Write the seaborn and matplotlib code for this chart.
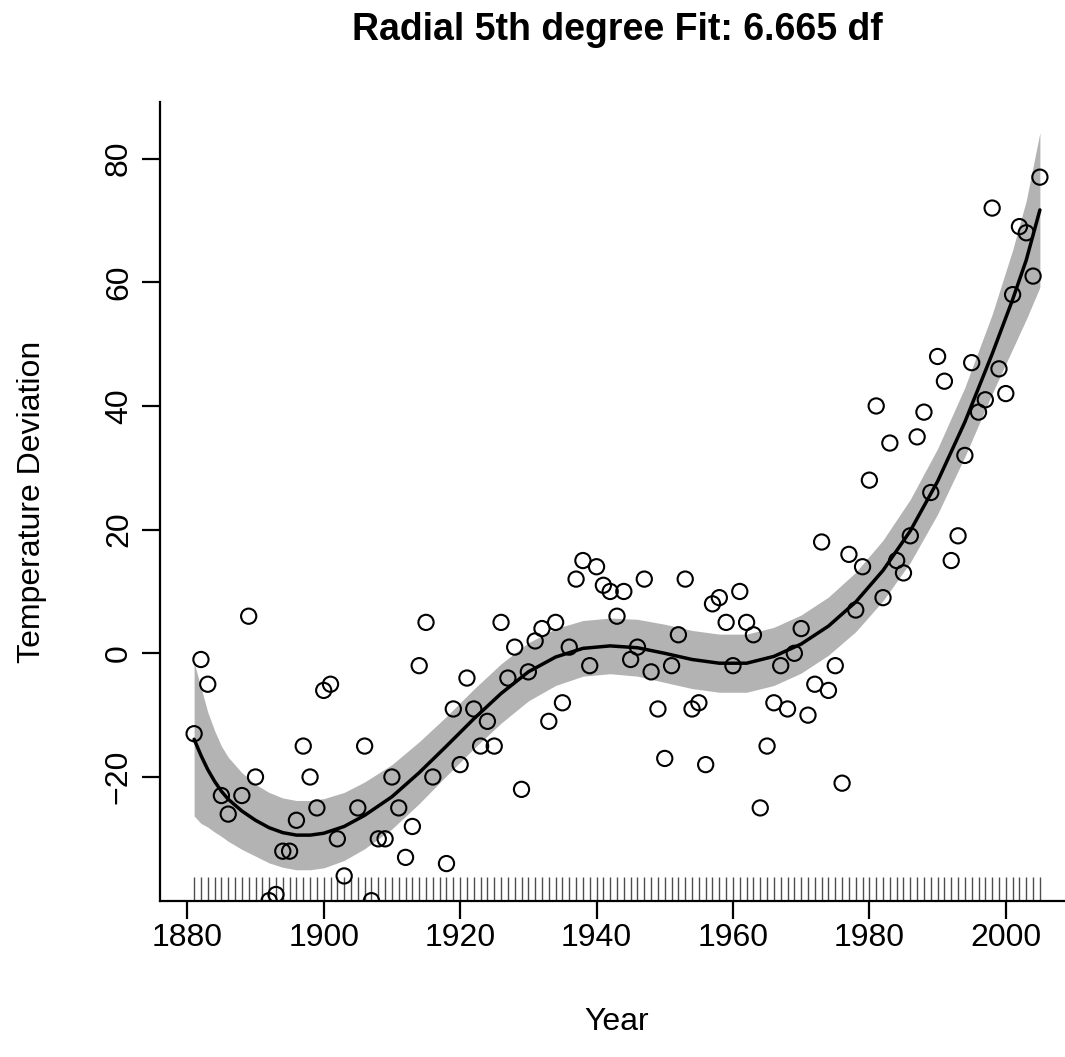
import matplotlib
matplotlib.use("Agg")
import matplotlib.pyplot as plt
import seaborn as sns
import numpy as np

# yearly temperature deviations (years below -41 are clipped away)
years = list(range(1881, 2006))
temp_dev = [
    -13, -1, -5, -44, -23, -26, -43, -23, 6, -20,
    -45, -40, -39, -32, -32, -27, -15, -20, -25, -6,
    -5, -30, -36, -44, -25, -15, -40, -30, -30, -20,
    -25, -33, -28, -2, 5, -20, -43, -34, -9, -18,
    -4, -9, -15, -11, -15, 5, -4, 1, -22, -3,
    2, 4, -11, 5, -8, 1, 12, 15, -2, 14,
    11, 10, 6, 10, -1, 1, 12, -3, -9, -17,
    -2, 3, 12, -9, -8, -18, 8, 9, 5, -2,
    10, 5, 3, -25, -15, -8, -2, -9, 0, 4,
    -10, -5, 18, -6, -2, -21, 16, 7, 14, 28,
    40, 9, 34, 15, 13, 19, 35, 39, 26, 48,
    44, 15, 19, 32, 47, 39, 41, 72, 46, 42,
    58, 69, 68, 61, 77,
]

# fitted curve and half width of its band
fit_years = [1881, 1882, 1883, 1884, 1885, 1886, 1888, 1890, 1892, 1894,
             1896, 1898, 1900, 1903, 1906, 1910, 1914, 1918, 1922, 1926,
             1930, 1934, 1938, 1942, 1946, 1950, 1954, 1958, 1962, 1966,
             1970, 1974, 1978, 1982, 1986, 1990, 1994, 1998, 2001, 2003, 2005]
fit_vals = [-13.9, -16.5, -18.8, -20.7, -22.3, -23.6, -25.5, -27.0, -28.2, -29.0,
            -29.4, -29.4, -29.1, -28.0, -26.2, -23.2, -19.3, -15.0, -10.6, -6.5,
            -3.0, -0.6, 0.8, 1.2, 0.9, 0.0, -1.0, -1.6, -1.6, -0.5,
            1.5, 4.4, 8.3, 13.4, 19.8, 27.8, 37.4, 48.4, 57.2, 63.6, 71.7]
band_half = [12.4, 11.0, 9.3, 8.2, 7.3, 6.8, 6.2, 5.8, 5.7, 5.6,
             5.6, 5.6, 5.6, 5.5, 5.4, 5.2, 5.0, 4.8, 4.8, 4.8,
             4.7, 4.6, 4.5, 4.5, 4.6, 4.7, 4.7, 4.7, 4.7, 4.7,
             4.7, 4.7, 4.8, 4.9, 5.1, 5.3, 5.6, 6.4, 8.0, 9.6, 12.5]

sns.set_style("ticks")
plt.rcParams["font.family"] = ["Liberation Sans", "DejaVu Sans"]
plt.rcParams["text.color"] = "black"
plt.rcParams["axes.labelcolor"] = "black"
plt.rcParams["xtick.color"] = "black"
plt.rcParams["ytick.color"] = "black"

fig = plt.figure(figsize=(10.65, 10.57), dpi=100)
ax = fig.add_axes([0.1505, 0.1479, 0.8577, 0.7553])

lower = np.array(fit_vals) - np.array(band_half)
upper = np.array(fit_vals) + np.array(band_half)
ax.fill_between(fit_years, lower, upper, color="#b3b3b3", lw=0, zorder=1)

sns.rugplot(x=years, height=0.03, color="0.3", lw=0.8, ax=ax, zorder=2)
sns.scatterplot(x=years, y=temp_dev, marker="o", s=120, facecolor="none",
                edgecolor="black", linewidth=1.5, ax=ax, zorder=3)
sns.lineplot(x=fit_years, y=fit_vals, color="black", lw=2.5, ax=ax, zorder=4)

ax.set_xlim(1876.04, 2009.96)
ax.set_ylim(-40.0, 89.1)
ax.set_xticks(range(1880, 2001, 20))
ax.set_yticks(range(-20, 81, 20))
sns.despine(ax=ax)
for side in ["left", "bottom"]:
    ax.spines[side].set_linewidth(1.6)
    ax.spines[side].set_color("black")

ax.tick_params(axis="both", length=13, width=1.6, color="black",
               labelsize=23, labelcolor="black")
ax.tick_params(axis="x", pad=3)
ax.tick_params(axis="y", pad=6)
for lab in ax.get_yticklabels():
    lab.set_rotation(90)
    lab.set_va("center")

ax.set_xlabel("Year", fontsize=23)
ax.set_ylabel("Temperature Deviation", fontsize=23)
ax.xaxis.set_label_coords(0.5, -0.152)
ax.xaxis.label.set_va("center")
ax.yaxis.set_label_coords(-0.1405, 0.5)
ax.yaxis.label.set_va("center")

fig.text(617 / 1065, 1 - 40 / 1057, "Radial 5th degree Fit: 6.665 df",
         ha="center", va="baseline", fontsize=27, fontweight="bold")

plt.savefig("out.png", dpi=100)
